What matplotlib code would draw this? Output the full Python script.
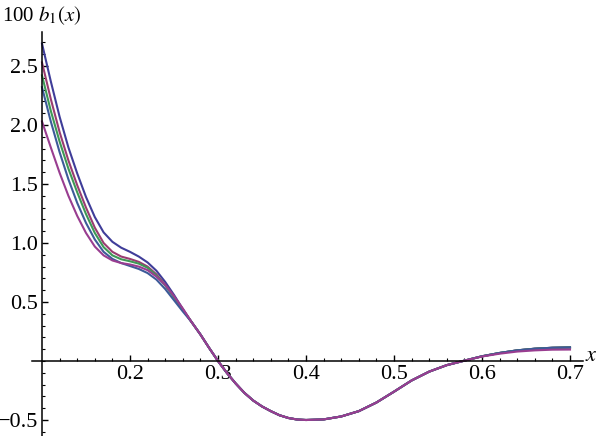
import numpy as np
import matplotlib
matplotlib.use('Agg')
import matplotlib.pyplot as plt
from matplotlib.ticker import FixedLocator

plt.rcParams['font.family'] = 'serif'
plt.rcParams['font.serif'] = ['Liberation Serif', 'DejaVu Serif']
plt.rcParams['mathtext.fontset'] = 'stix'

# left part (x = 0.10 .. 0.26), one array per curve
x_head = [0.10, 0.11, 0.12, 0.13, 0.14, 0.15, 0.16, 0.17, 0.18,
          0.19, 0.20, 0.21, 0.22, 0.23, 0.24, 0.25, 0.26]
b_c1 = [2.69, 2.37, 2.07, 1.81, 1.59, 1.39, 1.22, 1.09, 1.01,
        0.96, 0.925, 0.885, 0.835, 0.765, 0.67, 0.56, 0.44]
b_c2 = [2.53, 2.22, 1.94, 1.70, 1.49, 1.30, 1.13, 1.00, 0.925,
        0.885, 0.865, 0.84, 0.80, 0.735, 0.645, 0.545, 0.435]
b_c3 = [2.42, 2.12, 1.86, 1.63, 1.43, 1.245, 1.085, 0.965, 0.895,
        0.862, 0.845, 0.825, 0.79, 0.725, 0.64, 0.54, 0.435]
b_c4 = [2.32, 2.03, 1.77, 1.54, 1.34, 1.17, 1.03, 0.925, 0.865,
        0.83, 0.805, 0.78, 0.745, 0.69, 0.61, 0.515, 0.42]
b_c5 = [2.03, 1.81, 1.595, 1.40, 1.23, 1.085, 0.97, 0.895, 0.852,
        0.83, 0.818, 0.80, 0.77, 0.715, 0.645, 0.55, 0.445]

# right part (x = 0.27 .. 0.70), curves nearly coincide
x_tail = [0.27, 0.28, 0.29, 0.30, 0.31, 0.32, 0.33, 0.34, 0.35, 0.36,
          0.37, 0.38, 0.39, 0.40, 0.42, 0.44, 0.46, 0.48, 0.50, 0.52,
          0.54, 0.56, 0.58, 0.60, 0.62, 0.64, 0.66, 0.68, 0.70]
tail_a = [0.33, 0.225, 0.11, 0.0, -0.10, -0.19, -0.27, -0.335, -0.385, -0.425,
          -0.46, -0.483, -0.496, -0.50, -0.495, -0.47, -0.425, -0.352, -0.26, -0.165,
          -0.09, -0.035, 0.003, 0.04, 0.068, 0.09, 0.104, 0.112, 0.115]
tail_b = [0.33, 0.225, 0.11, 0.0, -0.10, -0.19, -0.27, -0.335, -0.385, -0.425,
          -0.46, -0.483, -0.496, -0.50, -0.495, -0.47, -0.425, -0.352, -0.26, -0.165,
          -0.09, -0.035, 0.003, 0.038, 0.062, 0.08, 0.09, 0.096, 0.097]

colors = [(0.2472, 0.24, 0.6), (0.6, 0.24, 0.442893), (0.24, 0.6, 0.33692),
          (0.24, 0.353173, 0.6), (0.6, 0.24, 0.563266)]

fig = plt.figure(figsize=(5.99, 4.36), dpi=100)
ax = fig.add_axes([32/599, 0, 551/599, 404/436])

heads = [b_c1, b_c2, b_c3, b_c4, b_c5]
tails = [tail_a, tail_a, tail_a, tail_a, tail_b]
for h, t, c in zip(heads, tails, colors):
    ax.plot(x_head + x_tail, h + t, color=c, lw=1.5, solid_joinstyle='round')

ax.set_xlim(0.08864, 0.71477)
ax.set_ylim(-0.6356, 2.788)

ax.spines['top'].set_visible(False)
ax.spines['right'].set_visible(False)
ax.spines['left'].set_position(('data', 0.1))
ax.spines['bottom'].set_position(('data', 0.0))
for s in ['left', 'bottom']:
    ax.spines[s].set_linewidth(1.1)

ax.xaxis.set_major_locator(FixedLocator([0.2, 0.3, 0.4, 0.5, 0.6, 0.7]))
ax.xaxis.set_minor_locator(FixedLocator(np.arange(0.12, 0.71, 0.02)))
ax.yaxis.set_major_locator(FixedLocator([-0.5, 0.5, 1.0, 1.5, 2.0, 2.5]))
ax.yaxis.set_minor_locator(FixedLocator(np.arange(-0.6, 2.75, 0.1)))
ax.set_xticklabels(['0.2', '0.3', '0.4', '0.5', '0.6', '0.7'])
ax.set_yticklabels(['\u22120.5', '0.5', '1.0', '1.5', '2.0', '2.5'])

ax.tick_params(axis='both', which='major', direction='in', length=4, width=1,
               labelsize=16)
ax.tick_params(axis='both', which='minor', direction='in', length=2, width=0.8)
ax.tick_params(axis='x', which='major', pad=3)
ax.tick_params(axis='y', which='major', pad=3)

fig.text(2/599, 1 - 16/436, r'100 $b_1(x)$', fontsize=15, va='center', ha='left')
fig.text(585/599, 1 - 356/436, r'$x$', fontsize=16, va='center', ha='left')

fig.savefig('out.png', dpi=100)
